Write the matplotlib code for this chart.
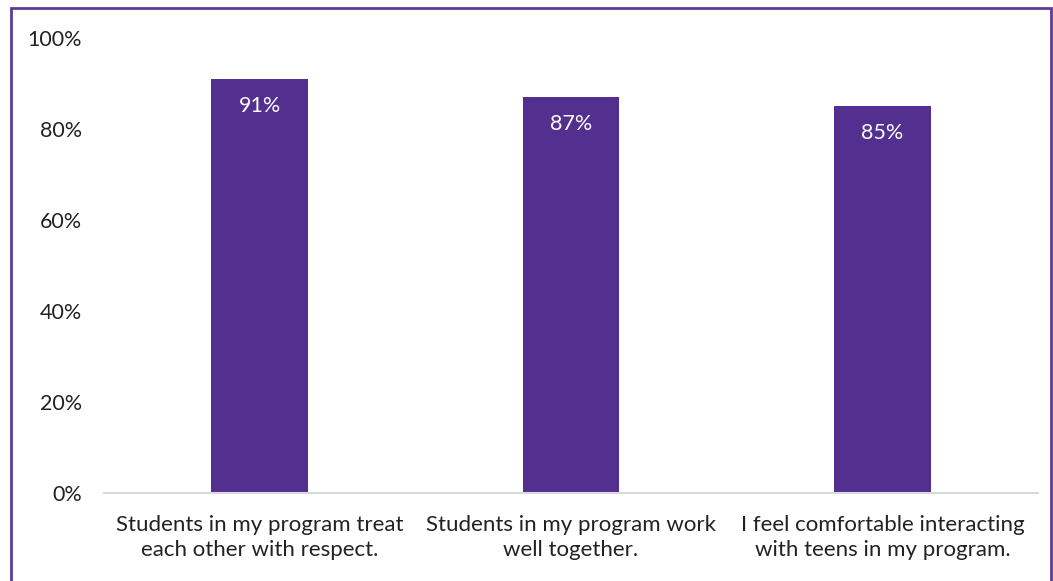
import matplotlib
matplotlib.use('Agg')
import matplotlib.pyplot as plt
from matplotlib.patches import Rectangle
from matplotlib.ticker import PercentFormatter

categories = [
    "Students in my program treat\neach other with respect.",
    "Students in my program work\nwell together.",
    "I feel comfortable interacting\nwith teens in my program.",
]
values = [91, 87, 85]
y_ticks = [0, 20, 40, 60, 80, 100]

purple = '#532f8f'
plt.rcParams['font.family'] = ['Lato', 'DejaVu Sans']

W, H = 1053, 581
fig = plt.figure(figsize=(W / 100, H / 100), dpi=100)
ax = fig.add_axes([104 / W, 1 - 493 / H, (1038 - 104) / W, (493 - 38) / H])

x = range(len(categories))
ax.bar(x, values, width=0.31, color=purple, zorder=2)
for xi, v in zip(x, values):
    ax.annotate(f"{v}%", (xi, v), xytext=(0, -27), textcoords='offset pixels',
                ha='center', va='center', color='white', fontsize=15.5)

ax.set_xlim(-0.5, len(categories) - 0.5)
ax.set_ylim(0, 100)
ax.set_yticks(y_ticks)
ax.yaxis.set_major_formatter(PercentFormatter(decimals=0))
ax.set_xticks(list(x))
ax.set_xticklabels(categories, fontsize=16, linespacing=1.32)
ax.tick_params(axis='y', length=0, pad=16, labelsize=15.5, colors='#222222')
ax.tick_params(axis='x', length=0, pad=16, colors='#222222')

for side in ['left', 'right', 'top']:
    ax.spines[side].set_visible(False)
ax.spines['bottom'].set_color('#d9d9d9')
ax.spines['bottom'].set_linewidth(1.5)

# outer frame around the chart
fig.patches.append(Rectangle((11 / W, -0.05), (1051 - 11) / W, 1.05 - 8 / H,
                             transform=fig.transFigure, fill=False,
                             edgecolor='#5b3c9a', linewidth=2))

fig.savefig('out.png', dpi=100, facecolor='white')
